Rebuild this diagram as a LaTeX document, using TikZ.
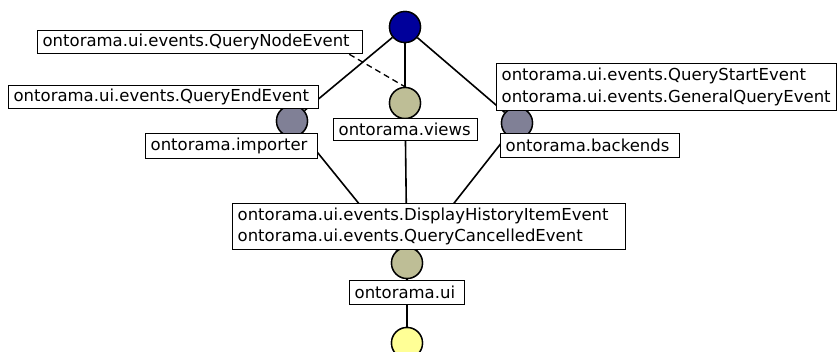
\documentclass[tikz,border=0pt]{standalone}
\usepackage{fontspec}
\setmainfont{DejaVu Sans}
\begin{document}
\begin{tikzpicture}[x=1pt,y=-1pt,
  concept/.style={circle,draw=black,line width=1.4pt,minimum size=31pt,inner sep=0pt},
  edge/.style={line width=1.6pt,black},
  lbl/.style={draw=black,fill=white,line width=1.3pt,anchor=north west,
    inner xsep=5pt,inner ysep=0pt,align=left,
    font=\fontsize{16.5}{21.5}\selectfont},
]
\useasboundingbox (0,0) rectangle (837,352);
\definecolor{topblue}{RGB}{0,0,155}
\definecolor{slate}{RGB}{128,128,150}
\definecolor{khaki}{RGB}{190,190,150}
\definecolor{paleyellow}{RGB}{255,255,150}

% concepts of the lattice
\node[concept,fill=topblue]    (top)   at (405,27)  {};
\node[concept,fill=khaki]      (views) at (405,103) {};
\node[concept,fill=slate]      (imp)   at (292,121) {};
\node[concept,fill=slate]      (back)  at (517,123) {};
\node[concept,fill=khaki]      (ui)    at (407,263) {};
\node[concept,fill=paleyellow] (bot)   at (407,343) {};

% order relation
\draw[edge] (top) -- (imp);
\draw[edge] (top) -- (views);
\draw[edge] (top) -- (back);
\draw[edge] (imp) -- (ui);
\draw[edge] (views) -- (ui);
\draw[edge] (back) -- (ui);
\draw[edge] (ui) -- (bot);

% redraw circles above the lines
\node[concept,fill=topblue]    at (top)   {};
\node[concept,fill=khaki]      at (views) {};
\node[concept,fill=slate]      at (imp)   {};
\node[concept,fill=slate]      at (back)  {};
\node[concept,fill=khaki]      at (ui)    {};
\node[concept,fill=paleyellow] at (bot)   {};

% attribute and object labels
\node[lbl,text width=315pt,minimum height=23pt] (qne) at (37,30) {ontorama.ui.events.QueryNodeEvent};
\draw[edge,line width=1.3pt,dash pattern=on 6pt off 4pt] ([xshift=-14pt]qne.south east) -- (views.north);
\node[lbl,text width=300pt,minimum height=23pt] (qee) at (8,85) {ontorama.ui.events.QueryEndEvent};
\node[lbl,text width=330pt,minimum height=47pt] (qse) at (496,63) {ontorama.ui.events.QueryStartEvent\\ontorama.ui.events.GeneralQueryEvent};
\node[lbl,text width=162pt,minimum height=25pt] (impl) at (145,133) {ontorama.importer};
\node[lbl,text width=134pt,minimum height=22pt] (viewsl) at (333,118) {ontorama.views};
\node[lbl,text width=169pt,minimum height=24pt] (backl) at (500,133) {ontorama.backends};
\node[lbl,text width=383pt,minimum height=46pt] (dhie) at (232,203) {ontorama.ui.events.DisplayHistoryItemEvent\\ontorama.ui.events.QueryCancelledEvent};
\node[lbl,text width=105pt,minimum height=24pt] (uil) at (349,280) {ontorama.ui};
\end{tikzpicture}
\end{document}
